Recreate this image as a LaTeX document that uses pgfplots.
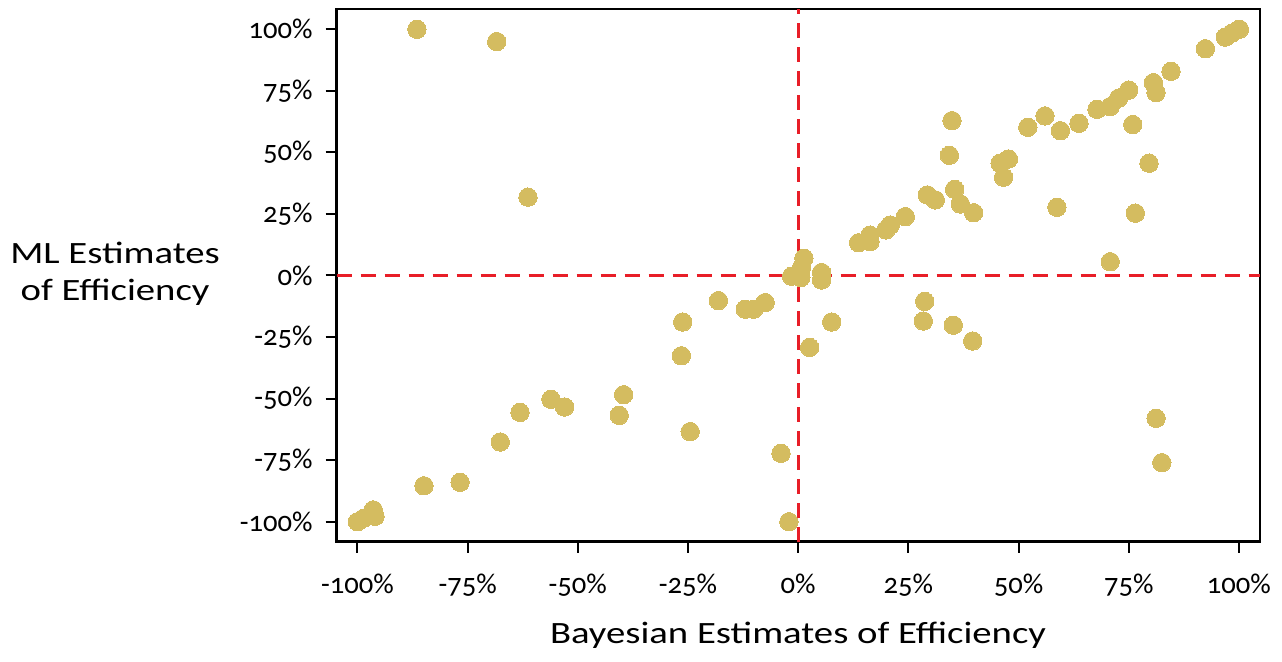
\documentclass[border=0pt]{standalone}
\usepackage{fontspec}
\setmainfont{Carlito}[Numbers=OldStyle]
\newfontfamily\labelfont[FakeStretch=1.25]{Carlito}
\usepackage{pgfplots}
\pgfplotsset{compat=1.18}
\definecolor{dotc}{RGB}{212,188,96}
\definecolor{refred}{RGB}{232,30,40}
\begin{document}
\begin{tikzpicture}
\path[use as bounding box] (-168.35pt,-60.15pt) rectangle (472.65pt,270.85pt);
\begin{axis}[
  scale only axis,
  width=461.7pt, height=266.2pt,
  xmin=-104.7, xmax=104.8,
  ymin=-108.1, ymax=108.1,
  axis line style={black, line width=1.2pt},
  tick style={black, line width=1pt},
  major tick length=5.5pt,
  tick align=outside,
  xtick pos=bottom, ytick pos=left,
  xtick={-100,-75,-50,-25,0,25,50,75,100},
  ytick={-100,-75,-50,-25,0,25,50,75,100},
  xticklabels={-100\%,-75\%,-50\%,-25\%,0\%,25\%,50\%,75\%,100\%},
  yticklabels={-100\%,-75\%,-50\%,-25\%,0\%,25\%,50\%,75\%,100\%},
  ticklabel style={font=\fontsize{14.3}{16}\selectfont},
  xticklabel style={yshift=-7pt},
  yticklabel style={xshift=-3pt},
  /pgf/number format/assume math mode=true,
  xlabel={Bayesian Estimates of Efficiency},
  ylabel={ML Estimates\\of Efficiency},
  xlabel style={font=\labelfont\fontsize{15.5}{18.85}\selectfont, at={(rel axis cs:0.4996,-0.175)}, anchor=center},
  ylabel style={font=\labelfont\fontsize{15.5}{18.85}\selectfont, rotate=-90, align=center, at={(rel axis cs:-0.240,0.503)}, anchor=center},
  clip=false,
]
\addplot[refred, line width=1.5pt, dash pattern=on 7.5pt off 4.5pt] coordinates {(-104.7,0) (104.8,0)};
\addplot[refred, line width=1.5pt, dash pattern=on 7.5pt off 4.5pt] coordinates {(0,-108.1) (0,108.1)};
\addplot[only marks, color=dotc, mark=*, mark size=4.6pt, mark options={draw=dotc, fill=dotc, line width=0pt}] coordinates {
(-86.5,100) (-68.4,95) (-61.3,31.8)
(-100,-100) (-98.5,-98.5) (-96.4,-95.2) (-96,-97.8)
(-84.9,-85.4) (-76.7,-84) (-67.6,-67.6) (-63.1,-55.6) (-56.1,-50.3) (-53,-53.4)
(-39.6,-48.4) (-40.6,-56.8) (-24.5,-63.4) (-26.2,-18.9) (-26.5,-32.6)
(-18.1,-10.2) (-12,-13.7) (-10.1,-13.7) (-7.5,-11) (-3.9,-72.2) (-2.1,-100)
(-1.5,-0.3) (0.6,-0.8) (0.8,3.4) (1.3,7) (5.3,1.2) (5.3,-1.8)
(2.6,-29.2) (7.6,-18.9) (28.7,-10.5) (28.4,-18.5) (35.2,-20.2) (39.6,-26.6)
(70.8,5.6) (81.2,-58) (82.5,-76)
(100.1,100) (98.4,98.4) (96.9,96.8) (92.4,92.1) (84.6,82.9) (80.6,78.3) (81.2,74.3)
(75,75.3) (72.7,72) (70.8,68.6) (67.8,67.5) (63.7,61.8) (75.9,61.3)
(56,64.8) (52.1,60.2) (59.5,58.8) (79.6,45.6) (76.5,25.3) (58.7,27.7)
(34.9,62.9) (34.3,48.8) (47.7,47.3) (45.8,45.6) (46.6,39.9)
(35.5,35) (29.3,32.7) (31.1,30.7) (36.8,29) (39.8,25.5)
(24.3,23.9) (20.9,20.5) (19.9,18.5) (16.3,16.4) (16.3,13.7) (13.7,13.3)
};
\end{axis}
\end{tikzpicture}
\end{document}
